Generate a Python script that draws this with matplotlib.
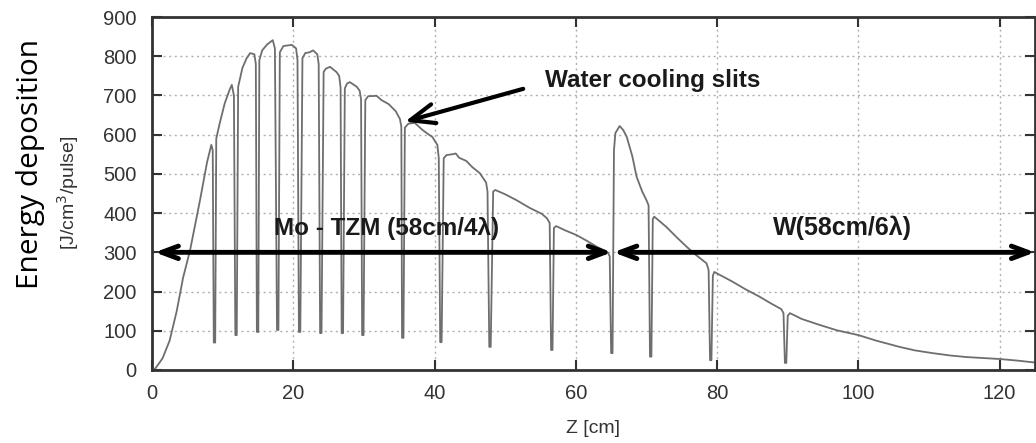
import matplotlib.pyplot as plt

# --- data (Z in cm, energy in J/cm^3/pulse) ---
z = [0.3, 0.8, 1.5, 2.5, 3.5, 4.4, 5.4, 6.8, 7.8, 8.4, 8.6, 8.75, 8.95,
     9.1, 9.6, 10.3, 11.0, 11.3, 11.6, 11.8, 12.0,
     12.2, 12.8, 13.4, 13.9, 14.5, 14.7, 14.85, 15.05,
     15.2, 15.6, 16.3, 17.1, 17.4, 17.7, 17.9,
     18.1, 18.6, 19.8, 20.4, 20.6, 20.8, 21.0,
     21.3, 21.7, 22.3, 22.8, 23.4, 23.6, 23.8, 24.0,
     24.3, 24.6, 25.2, 26.1, 26.5, 26.7, 26.85, 27.05,
     27.3, 27.6, 28.0, 29.0, 29.4, 29.6, 29.75, 29.95,
     30.2, 30.6, 31.8, 32.5, 33.5, 34.5, 35.1, 35.3, 35.4, 35.6,
     35.8, 36.3, 37.2, 38.3, 39.2, 39.7, 40.4, 40.6, 40.8, 41.0,
     41.3, 41.7, 42.5, 43.0, 43.5, 44.5, 45.3, 46.4, 47.3, 47.5, 47.75, 47.95,
     48.3, 48.6, 50.0, 51.6, 53.5, 55.2, 55.9, 56.3, 56.5, 56.7,
     56.9, 57.2, 58.5, 60.1, 61.5, 63.0, 64.5, 64.8, 65.0, 65.2,
     65.4, 65.6, 66.2, 66.7, 67.2, 68.0, 68.6, 69.4, 70.0, 70.3, 70.5, 70.7,
     70.9, 71.1, 72.8, 74.3, 75.7, 77.1, 78.5, 78.8, 79.0, 79.2,
     79.4, 79.6, 82.2, 84.0, 86.0, 87.6, 89.1, 89.4, 89.6, 89.8,
     90.0, 90.3, 92.0, 94.5, 97.0, 100.0, 102.5, 105.8, 108.0, 110.5,
     113.0, 115.3, 118.0, 120.0, 122.5, 125.0]
edep = [0, 12, 30, 75, 150, 235, 306, 433, 530, 574, 560, 70, 70,
        590, 630, 680, 715, 727, 700, 89, 89,
        722, 770, 795, 808, 805, 780, 97, 97,
        790, 815, 830, 841, 820, 102, 102,
        810, 826, 829, 820, 790, 97, 97,
        795, 808, 810, 815, 805, 780, 94, 94,
        760, 768, 773, 760, 750, 720, 94, 94,
        718, 730, 734, 722, 712, 690, 89, 89,
        688, 698, 699, 688, 678, 660, 640, 620, 82, 82,
        618, 628, 630, 612, 600, 594, 574, 540, 71, 71,
        540, 548, 550, 552, 541, 533, 518, 502, 478, 455, 59, 59,
        455, 459, 448, 433, 413, 398, 387, 375, 51, 51,
        362, 367, 356, 344, 330, 314, 300, 290, 43, 43,
        560, 604, 622, 612, 595, 545, 493, 455, 433, 420, 34, 34,
        385, 391, 365, 338, 314, 292, 272, 255, 25, 25,
        240, 250, 225, 206, 187, 170, 155, 145, 18, 18,
        138, 145, 130, 115, 101, 89, 75, 59, 50, 43,
        37, 33, 30, 28, 24, 19]

mo_span = (0.4, 65.1)
w_span = (65.3, 125.0)
x_ticks = [0, 20, 40, 60, 80, 100, 120]
y_ticks = [0, 100, 200, 300, 400, 500, 600, 700, 800, 900]

TICK_FONT = ["Liberation Sans Narrow", "Liberation Sans", "DejaVu Sans"]
BOLD_FONT = ["Liberation Sans", "DejaVu Sans"]

fig = plt.figure(figsize=(10.36, 4.43), dpi=100)
ax = fig.add_axes([0.1467, 0.1648, 0.8523, 0.7968])

ax.plot(z, edep, color="#6e6e6e", lw=1.3)

ax.set_xlim(0, 125)
ax.set_ylim(0, 900)
ax.set_xticks(x_ticks)
ax.set_yticks(y_ticks)
ax.grid(True, color="#b0b0b0", linestyle=(0, (1.5, 2.5)), lw=1.0)
ax.tick_params(direction="in", length=7, width=1.5, top=True, right=True,
               colors="#333333", labelsize=14.5)
ax.tick_params(axis="x", pad=10)
ax.tick_params(axis="y", pad=11)
for lab in ax.get_xticklabels() + ax.get_yticklabels():
    lab.set_family(TICK_FONT)
for sp in ax.spines.values():
    sp.set_linewidth(2)
    sp.set_color("#333333")

# region arrows
arr = dict(arrowstyle="<->,head_length=1.2,head_width=0.45", lw=3.5,
           color="black", shrinkA=0, shrinkB=0)
ax.annotate("", xy=(mo_span[0], 300), xytext=(mo_span[1], 300), arrowprops=arr)
ax.annotate("", xy=(w_span[0], 300), xytext=(w_span[1], 300), arrowprops=arr,
            annotation_clip=False)

ax.text(33.2, 362, "Mo - TZM (58cm/4\u03bb)", ha="center", va="center",
        fontsize=17.5, fontweight="bold", color="#1a1a1a", family=BOLD_FONT)
ax.text(97.7, 362, "W(58cm/6\u03bb)", ha="center", va="center",
        fontsize=18, fontweight="bold", color="#1a1a1a", family=BOLD_FONT)

ax.annotate("Water cooling slits", xy=(35.8, 633), xytext=(55.6, 738),
            ha="left", va="center", fontsize=17.5, fontweight="bold",
            color="#1a1a1a", family=BOLD_FONT,
            arrowprops=dict(arrowstyle="->,head_length=1.0,head_width=0.4",
                            lw=3, color="black", shrinkA=14, shrinkB=0,
                            relpos=(0, 0.4)))

ax.set_xlabel("Z [cm]", fontsize=14, color="#333333", family=TICK_FONT,
              labelpad=12)

fig.text(0.029, 0.63, "Energy deposition", rotation=90, ha="center",
         va="center", fontsize=21.5, family=["Open Sans", "DejaVu Sans"],
         color="black")
fig.text(0.066, 0.565, "[J/cm$^3$/pulse]", rotation=90, ha="center",
         va="center", fontsize=14, family=TICK_FONT, color="#333333")

fig.savefig("out.png", dpi=100)
